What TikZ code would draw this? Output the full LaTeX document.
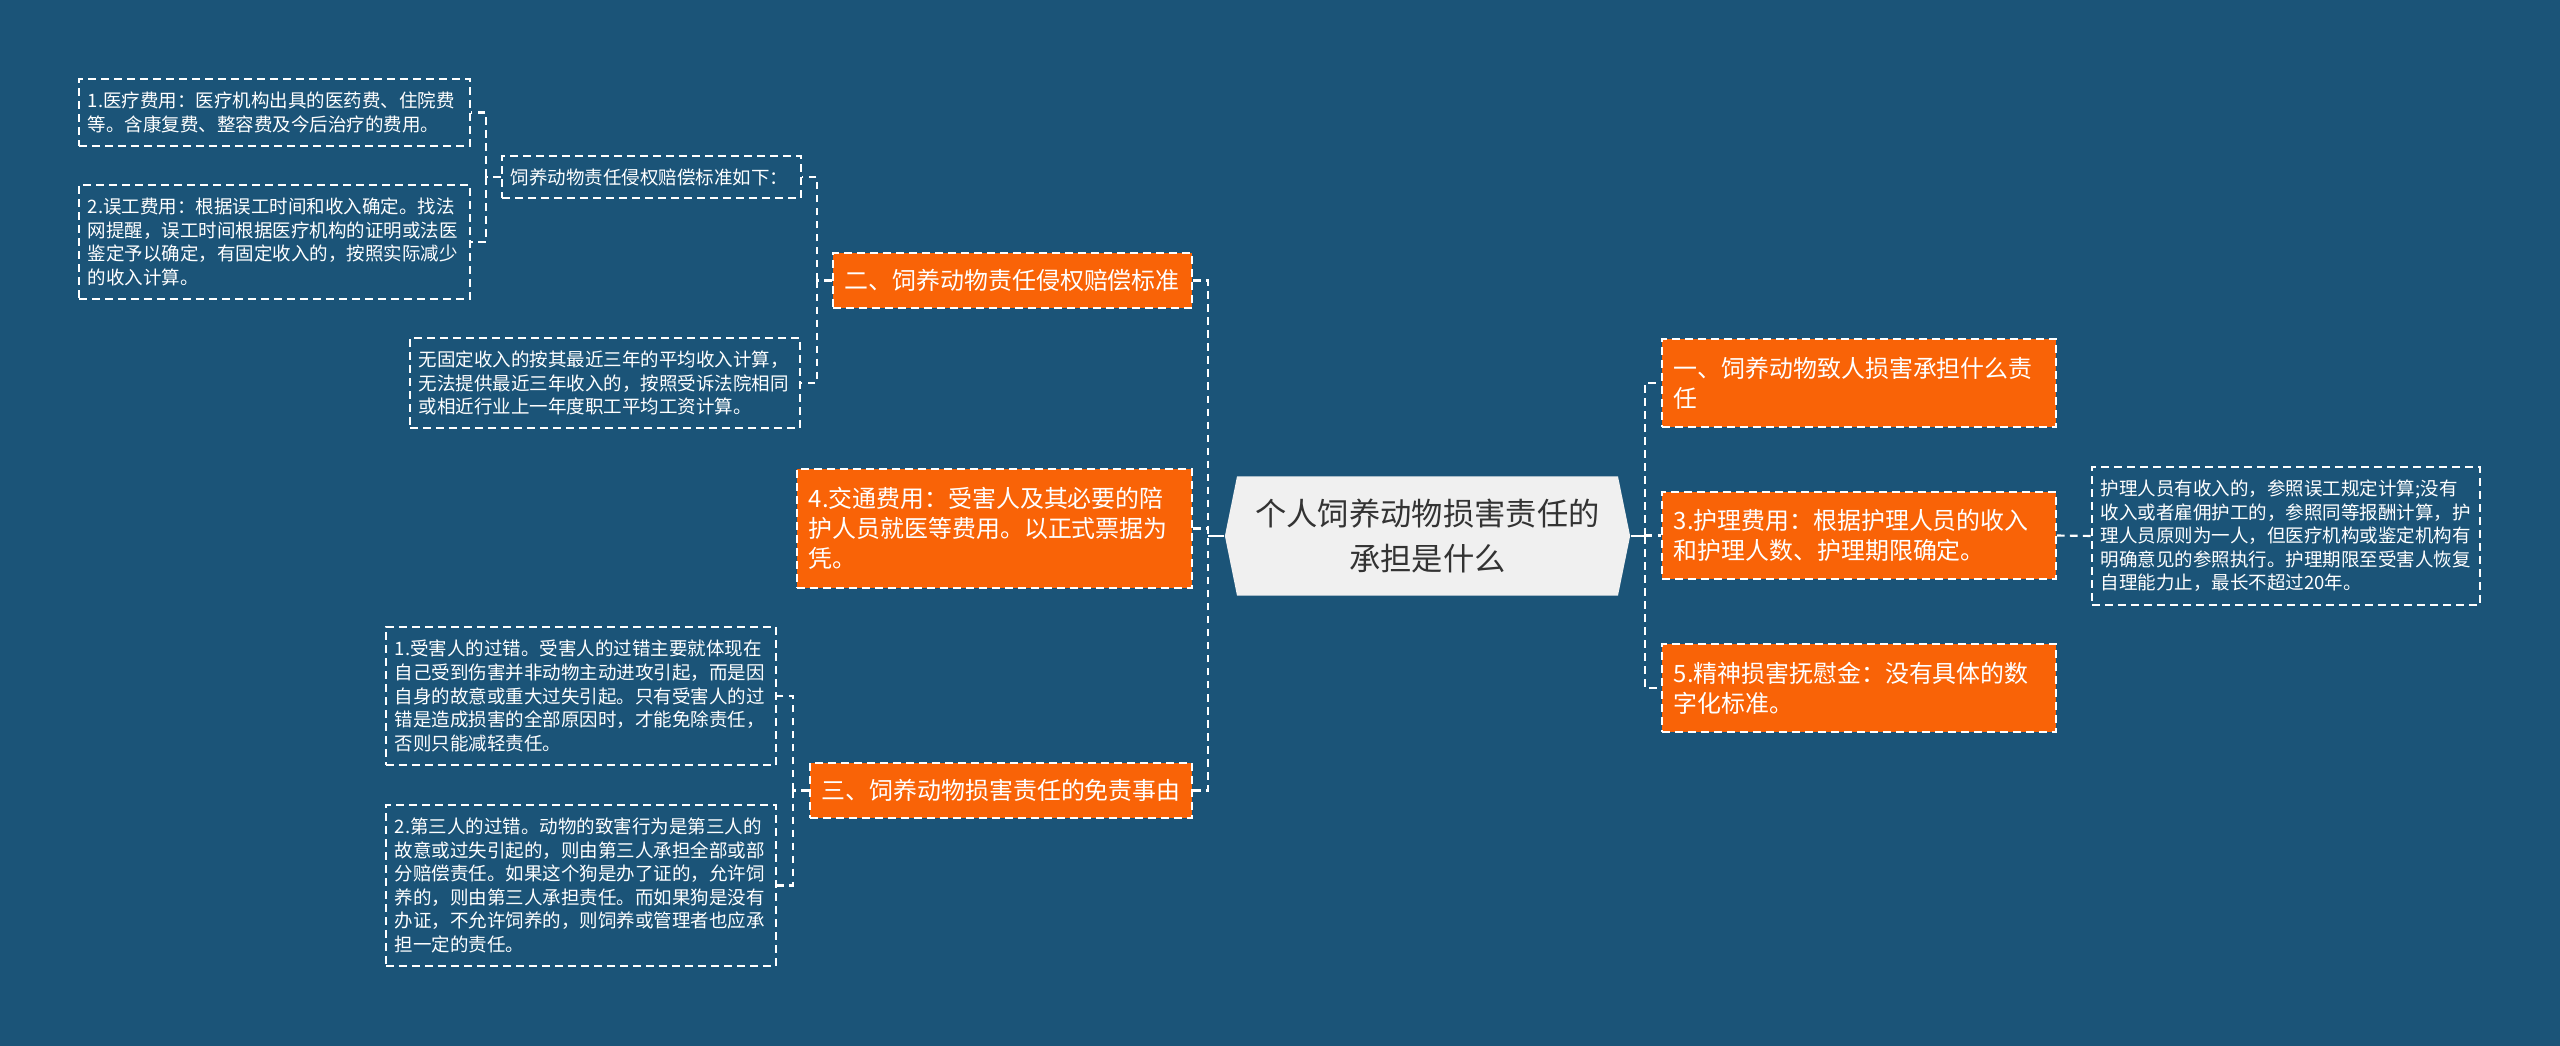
\documentclass[tikz,border=0pt]{standalone}
\usepackage{fontspec}
\setmainfont{Noto Sans CJK SC}
\usetikzlibrary{shapes.symbols}

\definecolor{bgblue}{HTML}{1B5478}
\definecolor{topicorange}{HTML}{F96307}
\definecolor{rootgray}{HTML}{F0F0F0}
\definecolor{roottext}{HTML}{333333}

\newcommand\rootfnt{\fontsize{8.9}{12.8}\selectfont}
\newcommand\topicfnt{\fontsize{6.8}{8.5}\selectfont}
\newcommand\notefnt{\fontsize{5.26}{6.7}\selectfont}

\tikzset{
	dashline/.style={dash pattern=on 2.2pt off 1.5pt},
	rootnode/.style={shape=signal, signal to=west and east, signal pointer angle=157,
		fill=rootgray, text=roottext, font=\rootfnt, align=center,
		minimum width=4.05cm, minimum height=1.19cm, inner sep=0pt},
	topic/.style={fill=topicorange, draw=white, dashline, line width=0.45pt, text=white,
		font=\topicfnt, align=left, inner xsep=0.12cm, inner ysep=0pt},
	note/.style={draw=white, dashline, line width=0.45pt, text=white,
		font=\notefnt, align=left, inner xsep=0.09cm, inner ysep=0pt},
	conn/.style={draw=white, dashline, line width=0.6pt},
	trunk/.style={draw=white, line width=0.6pt},
}

\begin{document}
\begin{tikzpicture}[x=0.01cm, y=-0.01cm]
	\fill[bgblue] (0,0) rectangle (2560,1046);

	% centre
	\node[rootnode] (root) at (1427.5,536) {个人饲养动物损害责任的\\承担是什么};

	% left topics
	\node[topic, text width=3.35cm, minimum height=0.55cm] (comp) at (1012.5,280.5) {二、饲养动物责任侵权赔偿标准};
	\node[topic, text width=3.71cm, minimum height=1.19cm] (traffic) at (994.5,528.5) {4.交通费用：受害人及其必要的陪\\护人员就医等费用。以正式票据为\\凭。};
	\node[topic, text width=3.58cm, minimum height=0.55cm] (exempt) at (1001,790.5) {三、饲养动物损害责任的免责事由};

	% right topics
	\node[topic, text width=3.70cm, minimum height=0.88cm] (bear) at (1859,383) {一、饲养动物致人损害承担什么责\\任};
	\node[topic, text width=3.70cm, minimum height=0.87cm] (nurse) at (1859,535.5) {3.护理费用：根据护理人员的收入\\和护理人数、护理期限确定。};
	\node[topic, text width=3.70cm, minimum height=0.88cm] (mental) at (1859,688) {5.精神损害抚慰金：没有具体的数\\字化标准。};

	% notes
	\node[note, text width=2.81cm, minimum height=0.42cm] (std) at (651.5,177) {饲养动物责任侵权赔偿标准如下：};
	\node[note, text width=3.73cm, minimum height=0.67cm] (medical) at (274.5,112.5) {1.医疗费用：医疗机构出具的医药费、住院费\\等。含康复费、整容费及今后治疗的费用。};
	\node[note, text width=3.73cm, minimum height=1.14cm] (lost) at (274.5,242) {2.误工费用：根据误工时间和收入确定。找法\\网提醒，误工时间根据医疗机构的证明或法医\\鉴定予以确定，有固定收入的，按照实际减少\\的收入计算。};
	\node[note, text width=3.72cm, minimum height=0.90cm] (noinc) at (605,383) {无固定收入的按其最近三年的平均收入计算，\\无法提供最近三年收入的，按照受诉法院相同\\或相近行业上一年度职工平均工资计算。};
	\node[note, text width=3.72cm, minimum height=1.38cm] (victim) at (581,696) {1.受害人的过错。受害人的过错主要就体现在\\自己受到伤害并非动物主动进攻引起，而是因\\自身的故意或重大过失引起。只有受害人的过\\错是造成损害的全部原因时，才能免除责任，\\否则只能减轻责任。};
	\node[note, text width=3.72cm, minimum height=1.61cm] (third) at (581,885.5) {2.第三人的过错。动物的致害行为是第三人的\\故意或过失引起的，则由第三人承担全部或部\\分赔偿责任。如果这个狗是办了证的，允许饲\\养的，则由第三人承担责任。而如果狗是没有\\办证，不允许饲养的，则饲养或管理者也应承\\担一定的责任。};
	\node[note, text width=3.70cm, minimum height=1.38cm] (carer) at (2286,536) {护理人员有收入的，参照误工规定计算;没有\\收入或者雇佣护工的，参照同等报酬计算，护\\理人员原则为一人，但医疗机构或鉴定机构有\\明确意见的参照执行。护理期限至受害人恢复\\自理能力止，最长不超过20年。};

	% junctions
	\coordinate (jl) at (1208,536);
	\coordinate (jr) at (1645,536);
	\coordinate (jcomp) at (817,280.5);
	\coordinate (jstd) at (486,177);
	\coordinate (jexempt) at (793,790.5);

	% connectors
	\draw[trunk] (root.west) -- (jl);
	\draw[trunk] (root.east) -- (jr);
	\draw[conn] (comp.east) -| (jl);
	\draw[conn] (traffic.east) -| (jl);
	\draw[conn] (exempt.east) -| (jl);
	\draw[conn] (jr) |- (bear.west);
	\draw[conn] (jr) |- (nurse.west);
	\draw[conn] (jr) |- (mental.west);
	\draw[conn] (nurse.east) -- (carer.west);
	\draw[conn] (comp.west) -- (jcomp);
	\draw[conn] (jcomp) |- (std.east);
	\draw[conn] (jcomp) |- (noinc.east);
	\draw[conn] (std.west) -- (jstd);
	\draw[conn] (jstd) |- (medical.east);
	\draw[conn] (jstd) |- (lost.east);
	\draw[conn] (exempt.west) -- (jexempt);
	\draw[conn] (jexempt) |- (victim.east);
	\draw[conn] (jexempt) |- (third.east);
\end{tikzpicture}
\end{document}
